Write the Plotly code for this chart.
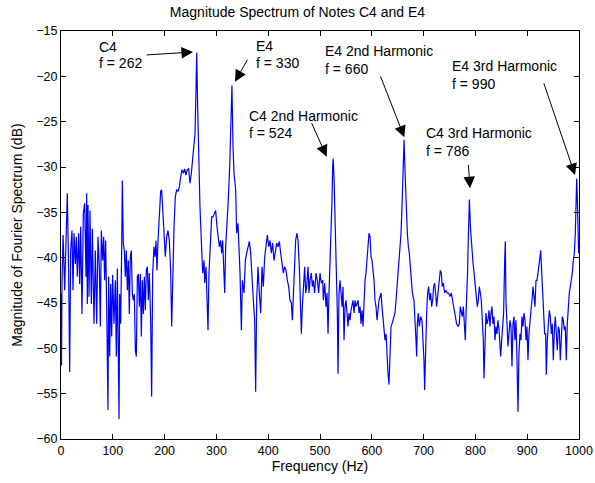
import plotly.graph_objects as go

# ---- spectrum data: (frequency Hz, magnitude dB) ----
band_0_170 = [
    (0, -44.0), (1, -51.9), (2, -42.5), (4, -37.5), (7.1, -43.6), (10.3, -35.9),
    (12.2, -32.9), (14.8, -41.8), (16.7, -52.6), (18.7, -39.2), (21.2, -37.0),
    (23.2, -43.6), (25.1, -37.3), (27.7, -40.7), (29.6, -37.7), (31.5, -42.1),
    (34.1, -37.3), (36.0, -42.9), (38.0, -36.6), (40.5, -46.2), (43.1, -35.1),
    (45.7, -34.0), (48.3, -42.1), (49.6, -32.9), (50.8, -45.1), (52.1, -34.2),
    (54.1, -44.3), (56.0, -34.8), (58.6, -45.1), (60.5, -36.8), (62.4, -42.9),
    (63.7, -47.3), (66.3, -39.2), (68.9, -47.3), (71.4, -37.7), (74.0, -41.0),
    (75.9, -47.6), (77.9, -37.0), (80.4, -40.3), (82.4, -37.7), (84.3, -42.5),
    (86.2, -38.1), (88.2, -45.4), (89.4, -50.9), (90.7, -56.8), (92.0, -42.1),
    (94.0, -50.9), (95.9, -42.9), (97.8, -48.7), (99.7, -41.9), (102.3, -47.3),
    (104.9, -42.5), (106.8, -50.9), (108.8, -41.2), (110.7, -48.7), (112.0, -57.8),
    (113.3, -44.0), (115.2, -47.3), (117.1, -39.2), (118.4, -31.5), (120.3, -38.5),
    (122.3, -39.2), (124.2, -42.1), (126.1, -39.2), (128.1, -43.6), (130.0, -40.3),
    (131.9, -46.2), (133.8, -39.9), (135.8, -39.2), (137.7, -44.0), (139.6, -44.7),
    (141.6, -44.0), (143.5, -50.2), (145.4, -50.9), (147.4, -42.1), (149.3, -41.8),
    (151.2, -45.4), (153.2, -41.8), (155.1, -48.7), (157.0, -42.5), (158.9, -46.2),
    (160.9, -42.1), (162.8, -45.8), (164.7, -41.4), (166.7, -41.0), (168.6, -44.7),
]
band_170_335 = [
    (170.5, -41.7), (173.1, -46.9), (175.0, -55.3), (177.0, -41.7), (179.5, -38.8),
    (181.5, -39.9), (183.4, -38.1), (185.3, -41.4), (187.3, -38.1), (189.8, -34.4),
    (192.4, -32.7), (194.3, -32.5), (196.3, -35.1), (198.8, -38.1), (201.4, -39.9),
    (204.0, -37.7), (206.6, -37.0), (209.1, -38.1), (211.7, -41.4), (213.7, -47.6),
    (215.6, -41.0), (218.2, -36.6), (220.7, -33.3), (223.3, -32.5), (225.9, -32.7),
    (228.5, -32.2), (231.0, -31.1), (233.6, -30.3), (236.2, -30.7), (238.7, -30.2),
    (241.3, -30.9), (243.9, -30.3), (246.5, -30.2), (249.0, -31.8), (251.6, -30.7),
    (254.2, -28.9), (256.8, -27.8), (258.7, -26.3), (260.6, -21.5), (262.0, -17.4),
    (263.8, -23.4), (265.8, -30.0), (268.3, -34.4), (270.9, -38.1), (273.5, -41.7),
    (276.1, -40.3), (277.4, -42.8), (279.9, -41.0), (281.9, -44.7), (283.8, -48.0),
    (285.7, -41.7), (288.3, -38.1), (290.9, -35.5), (293.4, -35.5), (296.0, -35.1),
    (298.6, -34.8), (301.2, -36.6), (303.7, -37.7), (305.7, -38.8), (308.2, -38.1),
    (310.2, -39.5), (312.1, -38.1), (314.7, -41.7), (316.0, -43.9), (317.9, -38.8),
    (320.5, -36.6), (323.0, -33.6), (325.6, -30.0), (327.5, -27.0), (330.0, -21.0),
    (332.1, -27.8), (334.0, -30.7),
]
band_335_505 = [
    (337.2, -32.5), (339.1, -37.3), (341.7, -36.2), (343.7, -38.8), (345.6, -41.7),
    (348.2, -48.0), (350.1, -42.5), (353.3, -43.9), (355.9, -40.3), (358.5, -39.5),
    (361.0, -38.8), (363.6, -38.2), (366.2, -39.5), (368.7, -42.5), (371.3, -44.7),
    (373.9, -46.9), (375.8, -54.8), (377.8, -44.7), (380.3, -41.0), (382.9, -43.9),
    (385.5, -46.1), (388.1, -41.0), (390.6, -43.2), (393.2, -39.9), (395.8, -38.4),
    (398.4, -37.5), (400.9, -38.8), (403.5, -38.1), (406.1, -39.5), (408.6, -38.4),
    (411.2, -40.3), (413.8, -39.2), (416.4, -38.4), (418.9, -38.8), (421.5, -38.2),
    (424.1, -39.5), (426.7, -41.0), (429.2, -41.7), (431.8, -41.0), (434.4, -41.4),
    (437.0, -42.5), (439.5, -43.2), (442.1, -44.7), (444.7, -45.0), (446.6, -46.9),
    (448.5, -43.9), (450.5, -40.3), (453.0, -38.1), (455.6, -37.3), (457.6, -38.1),
    (460.1, -41.0), (462.1, -44.7), (464.0, -48.4), (465.9, -45.4), (467.8, -43.2),
    (470.4, -41.0), (472.4, -43.9), (474.3, -43.2), (476.9, -41.0), (478.8, -43.9),
    (480.7, -42.5), (483.3, -41.7), (485.2, -43.2), (487.2, -42.5), (489.7, -43.9),
    (492.3, -41.7), (494.9, -42.5), (497.4, -43.9), (500.0, -41.7), (502.6, -42.8),
    (505.2, -42.5),
]
band_505_680 = [
    (506.5, -44.7), (509.0, -42.8), (511.6, -45.4), (513.6, -43.9), (515.5, -48.4),
    (517.4, -43.9), (519.3, -41.0), (521.3, -36.6), (523.2, -33.6), (524.4, -30.0),
    (525.5, -29.1), (527.2, -31.4), (529.0, -35.9), (530.9, -39.5), (532.2, -42.5),
    (533.5, -46.1), (534.8, -52.8), (536.7, -43.9), (538.7, -42.5), (540.6, -43.9),
    (542.5, -45.4), (544.4, -43.2), (546.4, -49.1), (548.3, -45.4), (550.2, -44.7),
    (552.2, -46.1), (554.1, -47.6), (556.0, -46.1), (558.0, -46.9), (559.9, -45.8),
    (561.8, -45.4), (563.7, -44.7), (565.7, -46.1), (567.6, -44.7), (569.5, -45.4),
    (571.5, -45.0), (573.4, -44.7), (575.3, -46.1), (577.3, -45.4), (579.2, -47.3),
    (581.1, -45.8), (583.1, -47.6), (585.0, -44.7), (586.9, -42.5), (588.8, -41.7),
    (590.8, -39.9), (592.7, -38.1), (594.6, -37.3), (596.6, -37.7), (598.5, -39.9),
    (600.4, -40.3), (602.4, -41.4), (604.3, -42.5), (606.2, -44.7), (608.1, -45.4),
    (610.1, -46.9), (612.0, -45.4), (613.9, -44.7), (615.9, -44.3), (617.8, -43.9),
    (619.7, -45.4), (621.7, -46.9), (623.6, -48.4), (625.5, -49.1), (627.5, -48.4),
    (629.4, -50.9), (631.3, -52.8), (633.2, -54.0), (635.2, -50.6), (637.1, -47.6),
    (639.0, -47.3), (641.0, -46.9), (642.9, -46.5), (644.8, -46.1), (646.8, -44.7),
    (648.7, -43.2), (650.6, -41.7), (652.5, -41.0), (654.5, -38.8), (656.4, -37.3),
    (658.3, -34.4), (660.0, -31.4), (661.2, -28.1), (662.3, -27.0), (664.3, -30.7),
    (666.5, -34.4), (668.6, -37.3), (670.6, -38.8), (672.5, -39.5), (674.4, -41.0),
    (676.4, -42.5), (678.3, -43.9),
]
band_680_842 = [
    (681.4, -44.7), (683.4, -48.0), (685.3, -49.1), (686.6, -50.9), (687.9, -47.3),
    (689.8, -46.1), (691.7, -47.6), (694.3, -46.5), (696.9, -46.9), (698.8, -49.1),
    (700.7, -51.3), (702.0, -54.6), (704.0, -49.1), (705.9, -46.1), (707.8, -43.9),
    (709.7, -43.2), (711.7, -44.7), (713.6, -43.9), (715.5, -45.4), (717.5, -44.7),
    (719.4, -43.2), (721.3, -42.8), (723.2, -43.9), (725.2, -45.4), (727.8, -43.9),
    (730.3, -42.1), (732.3, -41.4), (734.2, -41.7), (736.1, -43.2), (738.1, -42.8),
    (740.6, -43.9), (743.2, -43.6), (745.8, -43.9), (748.3, -43.9), (750.9, -44.3),
    (753.5, -43.9), (756.1, -44.7), (758.6, -45.4), (761.2, -46.1), (763.8, -47.3),
    (766.4, -47.6), (768.9, -47.3), (770.9, -45.4), (772.8, -46.1), (774.7, -46.5),
    (776.7, -45.4), (778.6, -46.9), (780.5, -49.1), (782.0, -46.1), (783.6, -44.3),
    (785.0, -41.4), (786.2, -38.1), (787.2, -35.1), (788.4, -33.6), (790.4, -36.6),
    (792.6, -38.8), (795.0, -40.3), (797.4, -41.7), (799.8, -43.2), (801.8, -44.7),
    (803.7, -45.4), (805.6, -44.7), (807.5, -43.2), (809.5, -43.9), (811.4, -44.7),
    (813.3, -46.9), (815.3, -49.1), (816.6, -53.3), (818.5, -48.4), (820.4, -46.1),
    (822.3, -47.3), (824.3, -46.9), (826.2, -45.8), (828.1, -47.6), (830.1, -46.1),
    (832.0, -45.4), (833.9, -47.3), (835.9, -46.5), (837.8, -49.1), (839.7, -47.6),
    (841.6, -48.4),
]
band_842_1000 = [
    (843.6, -46.9), (846.2, -48.4), (848.7, -50.9), (850.7, -49.1), (852.6, -46.9),
    (854.5, -46.1), (856.5, -40.3), (857.8, -38.2), (859.0, -44.7), (861.0, -48.4),
    (862.9, -49.8), (864.8, -48.4), (866.8, -46.9), (868.7, -47.6), (870.6, -52.0),
    (872.6, -47.3), (874.5, -46.5), (876.4, -49.1), (878.3, -46.9), (880.3, -51.3),
    (882.2, -57.0), (884.1, -50.6), (886.1, -48.4), (888.0, -49.1), (889.9, -46.5),
    (891.9, -47.6), (893.8, -46.1), (895.7, -46.9), (897.7, -49.1), (899.6, -47.6),
    (901.5, -51.3), (903.4, -48.4), (905.4, -46.5), (907.3, -45.8), (909.2, -44.7),
    (911.2, -43.2), (913.1, -44.3), (915.0, -45.4), (917.0, -42.5), (918.9, -42.5),
    (920.8, -41.7), (922.7, -41.0), (924.7, -39.9), (926.0, -39.2), (927.9, -41.7),
    (929.8, -44.7), (931.8, -47.6), (933.7, -48.4), (935.6, -48.4), (936.9, -52.9),
    (938.8, -49.1), (940.8, -46.9), (942.7, -45.8), (944.6, -46.5), (946.6, -48.4),
    (948.5, -47.3), (950.4, -51.3), (952.4, -48.0), (954.3, -46.5), (956.2, -48.4),
    (958.1, -50.2), (960.1, -47.6), (962.0, -48.0), (963.9, -51.3), (965.9, -47.6),
    (967.8, -46.5), (969.7, -46.9), (971.7, -48.0), (973.6, -47.6), (975.5, -51.3),
    (977.4, -47.3), (979.4, -44.7), (981.3, -43.9), (983.2, -43.2), (985.2, -42.5),
    (987.1, -41.7), (989.0, -40.3), (991.0, -39.5), (992.9, -37.3), (994.2, -33.3),
    (995.5, -31.3), (996.7, -33.3), (998.0, -38.1), (999.3, -39.5), (1000.0, -38.5),
]

x_ticks = [0, 100, 200, 300, 400, 500, 600, 700, 800, 900, 1000]
y_ticks = [-60, -55, -50, -45, -40, -35, -30, -25, -20, -15]

# annotation texts (two lines each), text anchor, arrow tail and arrow tip (data units)
note_lines = [
    ("C4", "f = 262"),
    ("E4", "f = 330"),
    ("C4 2nd Harmonic", "f = 524"),
    ("E4 2nd Harmonic", "f = 660"),
    ("C4 3rd Harmonic", "f = 786"),
    ("E4 3rd Harmonic", "f = 990"),
]
note_text_x = [71.5, 374.0, 361.0, 508.0, 703.5, 753.5]
note_text_y1 = [-16.75, -16.7, -24.4, -17.25, -26.3, -18.9]
note_text_y2 = [-18.55, -18.55, -26.3, -19.15, -28.2, -20.8]
arrow_tail_x = [162.2, 361.6, 482.6, 615.8, 786.3, 931.1]
arrow_tail_y = [-17.65, -18.0, -25.0, -19.85, -29.6, -20.6]
arrow_tip_x = [254.8, 335.9, 512.9, 662.8, 789.6, 992.3]
arrow_tip_y = [-17.32, -20.59, -28.86, -26.72, -32.34, -30.88]

bands = [band_0_170, band_170_335, band_335_505, band_505_680, band_680_842, band_842_1000]
freq = [p[0] for b in bands for p in b]
mag = [p[1] for b in bands for p in b]

FONT = "Liberation Sans, Arial, Helvetica, sans-serif"

fig = go.Figure()
fig.add_trace(go.Scatter(x=freq, y=mag, mode="lines",
                         line=dict(color="#0000ff", width=1.2), showlegend=False,
                         hoverinfo="skip"))

annotations = []
for i, (l1, l2) in enumerate(note_lines):
    for txt, yy in ((l1, note_text_y1[i]), (l2, note_text_y2[i])):
        annotations.append(dict(x=note_text_x[i], y=yy, xref="x", yref="y", text=txt,
                                showarrow=False, xanchor="left", yanchor="middle",
                                borderpad=0,
                                font=dict(family=FONT, size=14, color="black")))
    annotations.append(dict(x=arrow_tip_x[i], y=arrow_tip_y[i], xref="x", yref="y",
                            ax=arrow_tail_x[i], ay=arrow_tail_y[i], axref="x", ayref="y",
                            text="", showarrow=True, arrowhead=2, arrowsize=2.3,
                            arrowwidth=1, arrowcolor="black"))

axis_common = dict(showline=True, linecolor="black", linewidth=1, mirror="ticks",
                   ticks="inside", ticklen=5, tickcolor="black", tickwidth=1,
                   showgrid=False, zeroline=False, automargin=False,
                   tickfont=dict(family=FONT, size=12.5, color="black"))

fig.update_layout(
    width=595, height=483,
    margin=dict(l=61, r=16, t=31, b=44),
    paper_bgcolor="white", plot_bgcolor="white",
    font=dict(family=FONT, color="black"),
    title=dict(text="Magnitude Spectrum of Notes C4 and E4", x=0.5, xanchor="center",
               y=1 - 12 / 483, yanchor="middle", yref="container",
               font=dict(family=FONT, size=14, color="black")),
    xaxis=dict(range=[0, 1000], tickvals=x_ticks, **axis_common,
               title=dict(text="Frequency (Hz)", standoff=2,
                          font=dict(family=FONT, size=14, color="black"))),
    yaxis=dict(range=[-60, -15], tickvals=y_ticks, **axis_common,
               title=dict(text="Magnitude of Fourier Spectrum (dB)", standoff=10,
                          font=dict(family=FONT, size=14, color="black"))),
    annotations=annotations,
    showlegend=False,
)

fig.write_html("out.html", config={"displayModeBar": False},
               post_script="document.body.style.margin='0';document.body.style.overflow='hidden';")
